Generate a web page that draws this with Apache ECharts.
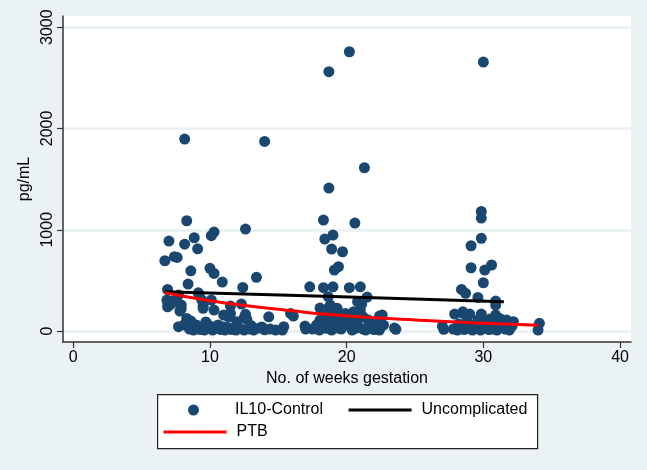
<!DOCTYPE html>
<html>
<head>
<meta charset="utf-8">
<script src="https://cdn.jsdelivr.net/npm/echarts@6/dist/echarts.min.js"></script>
<style>html,body{margin:0;padding:0;background:#EAF2F3;}#c{width:647px;height:470px;}</style>
</head>
<body>
<div id="c"></div>
<script>
// IL10-Control scatter: weeks of gestation and pg/mL
const il10Weeks = [
  8.15,14.0,8.3,12.6,10.3,10.1,7.0,8.15,8.85,9.1,6.7,7.4,7.6,8.6,10.0,10.3,10.9,13.4,12.4,8.4,
  6.9,9.2,7.7,9.15,6.9,6.9,6.85,7.4,7.9,7.9,7.8,8.3,9.5,9.5,9.4,10.1,10.3,11.5,12.3,11.0,
  11.5,11.35,12.6,12.7,11.95,14.3,15.4,15.9,16.1,16.95,17.3,7.7,
  8.5,8.8,9.1,9.3,9.6,9.9,10.2,10.5,10.8,11.1,11.3,11.6,11.9,12.2,12.5,12.9,13.2,13.6,14.0,14.4,14.8,15.3,
  8.1,9.0,10.0,10.6,11.0,12.0,13.0,13.8,9.7,8.6,12.5,7.3,7.1,
  18.7,20.2,21.3,18.7,18.3,20.6,18.4,19.0,18.9,19.7,19.1,19.4,18.3,19.0,20.2,21.0,18.65,21.5,20.8,21.1,
  22.6,23.5,22.4,22.7,22.4,23.6,
  18.05,18.5,18.8,19.0,19.3,19.5,19.9,20.2,20.5,20.7,21.0,21.2,21.6,21.9,22.3,18.2,18.5,18.05,17.8,17.5,
  18.0,18.6,19.2,19.6,20.0,20.4,20.8,21.2,21.6,22.0,19.8,20.9,19.0,18.4,18.9,19.4,20.6,21.4,22.2,19.7,20.3,21.8,17.0,
  30.0,29.85,29.85,29.85,29.1,30.6,29.1,30.1,30.0,28.4,28.7,29.6,30.9,30.9,29.85,27.9,28.5,29.0,28.5,30.9,
  31.2,31.7,32.2,34.1,34.0,27.0,27.1,27.8,28.1,28.3,28.6,28.9,29.2,29.5,29.8,30.1,30.4,30.7,31.0,31.3,
  31.6,31.9,32.1,28.2,28.8,29.4,30.2,30.8,31.5,29.6,30.5
];
const il10Values = [
  1895,1872,1089,1007,977,941,888,858,921,812,694,734,727,595,619,569,484,530,431,464,
  411,359,355,378,290,240,306,290,257,220,197,125,247,224,306,306,207,247,266,158,
  174,141,165,115,92,141,43,174,148,49,437,43,
  20,10,30,15,10,25,10,30,15,10,35,15,10,25,10,20,10,30,12,20,10,10,
  60,60,50,60,40,50,55,40,90,100,130,300,260,
  2560,2757,1612,1411,1096,1066,908,948,809,783,602,635,428,437,428,437,339,335,290,266,
  158,30,148,59,10,17,
  227,207,257,190,224,141,174,158,190,174,207,141,108,79,92,43,27,108,60,20,
  10,80,50,20,70,10,40,20,50,15,100,120,130,160,10,30,25,10,35,55,95,30,20,
  2655,1181,1115,915,842,652,625,602,477,411,372,332,296,257,168,168,174,168,190,158,
  125,108,92,76,10,49,17,20,10,40,15,30,10,25,10,35,15,20,10,40,
  20,10,50,70,90,60,80,60,70,110,120
];
// Fitted lines
const uncompWeeks = [6.7, 19.0, 31.5];
const uncompValues = [388, 340, 289];
const ptbWeeks = [6.7, 10, 13, 16, 19, 22, 25, 28, 31, 34];
const ptbValues = [378, 300, 245, 200, 160, 132, 110, 90, 72, 57];
// Axes
const xTicks = [0, 10, 20, 30, 40];
const yTicks = [0, 1000, 2000, 3000];

const zip = (a, b) => a.map((v, i) => [v, b[i]]);
const font = 'Liberation Sans, Arial, sans-serif';
const hidden = {color: 'rgba(0,0,0,0)', borderColor: 'rgba(0,0,0,0)', borderWidth: 0, opacity: 0};
const chart = echarts.init(document.getElementById('c'), null, {renderer: 'canvas'});
chart.setOption({
  backgroundColor: '#EAF2F3',
  animation: false,
  textStyle: {fontFamily: font},
  grid: {left: 63, right: 16, top: 16, bottom: 128, show: true, backgroundColor: '#FFFFFF', borderWidth: 0},
  xAxis: {
    type: 'value', min: -0.75, max: 40.8,
    name: 'No. of weeks gestation', nameLocation: 'middle', nameGap: 28,
    nameTextStyle: {fontSize: 16, color: '#000', fontFamily: font},
    axisLine: {show: true, onZero: false, lineStyle: {color: '#333', width: 1.5}},
    axisTick: {show: true, length: 6, customValues: xTicks, lineStyle: {color: '#333', width: 1.2}},
    axisLabel: {customValues: xTicks, fontSize: 16, color: '#000', margin: 8, fontFamily: font,
                formatter: v => String(v)},
    splitLine: {show: false}
  },
  yAxis: {
    type: 'value', min: -108, max: 3110,
    name: 'pg/mL', nameLocation: 'middle', nameGap: 17, nameRotate: 90,
    nameTextStyle: {fontSize: 16, color: '#000', fontFamily: font},
    axisLine: {show: true, onZero: false, lineStyle: {color: '#333', width: 1.5}},
    axisTick: {show: true, length: 6, customValues: yTicks, lineStyle: {color: '#333', width: 1.2}},
    axisLabel: {customValues: yTicks, fontSize: 16, color: '#000', rotate: 90, margin: 7, fontFamily: font,
                formatter: v => String(v)},
    splitLine: {show: true, lineStyle: {color: '#EAF2F3', width: 3}}
  },
  legend: [
    {data: ['IL10-Control', {name: 'Uncomplicated', itemStyle: hidden}], left: 188, top: 402, orient: 'horizontal',
     itemWidth: 63, itemHeight: 11, itemGap: 24, selectedMode: false, padding: 0,
     lineStyle: {width: 3},
     textStyle: {fontSize: 16, color: '#000', padding: [0, 0, 0, 5], fontFamily: font}},
    {data: [{name: 'PTB', itemStyle: hidden}], left: 162, top: 424, orient: 'horizontal',
     itemWidth: 63, itemHeight: 11, selectedMode: false, padding: 0,
     lineStyle: {width: 3},
     textStyle: {fontSize: 16, color: '#000', padding: [0, 0, 0, 5], fontFamily: font}}
  ],
  graphic: [{
    type: 'rect', left: 157, top: 394, z: -1, silent: true,
    shape: {width: 380, height: 54},
    style: {fill: '#FFFFFF', stroke: '#222', lineWidth: 1.2}
  }],
  series: [
    {name: 'IL10-Control', type: 'scatter', data: zip(il10Weeks, il10Values), symbol: 'circle', symbolSize: 11,
     itemStyle: {color: '#1A476F', opacity: 1}},
    {name: 'Uncomplicated', type: 'line', data: zip(uncompWeeks, uncompValues), showSymbol: false, symbol: 'none',
     lineStyle: {color: '#000', width: 3}, itemStyle: {color: '#000'}},
    {name: 'PTB', type: 'line', data: zip(ptbWeeks, ptbValues), smooth: true, showSymbol: false, symbol: 'none',
     lineStyle: {color: '#FF0000', width: 3}, itemStyle: {color: '#FF0000'}}
  ]
});
</script>
</body>
</html>
